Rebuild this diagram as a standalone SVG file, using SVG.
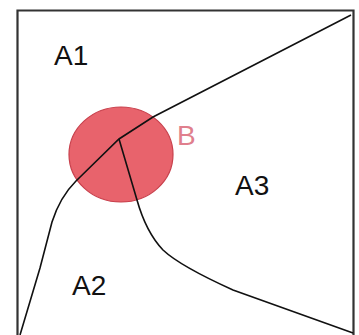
<svg xmlns="http://www.w3.org/2000/svg" width="359" height="335" viewBox="0 0 359 335">
<style>
.lbl{font-family:"Liberation Sans",Arial,sans-serif;font-size:28px;fill:#111}
.b{font-family:"Liberation Sans",Arial,sans-serif;font-size:28px;fill:#e07f8d}
.curve{fill:none;stroke:#111;stroke-width:1.6}
</style>
<rect width="359" height="335" fill="#fff"/>
<path d="M17.5,336 V10.5 H353.5 V336" fill="none" stroke="#333" stroke-width="2.2"/>
<g id="B">
<ellipse cx="121" cy="154.5" rx="52" ry="47.5" fill="#e8636c" stroke="#c8404c" stroke-width="1.2"/>
<text class="b" x="177" y="145">B</text>
</g>
<g id="connectors">
<path class="curve" d="M351,15 L153,117 L119,139 L76,181 Q60,197 52,222 Q46,245 40,268 L20,335"/>
<path class="curve" d="M119,139 L137,200 Q146,232 163,250 Q180,266 233,290 L353,333"/>
</g>
<g id="A1"><text class="lbl" x="54" y="65">A1</text></g>
<g id="A2"><text class="lbl" x="72" y="295">A2</text></g>
<g id="A3"><text class="lbl" x="235" y="195">A3</text></g>
</svg>
